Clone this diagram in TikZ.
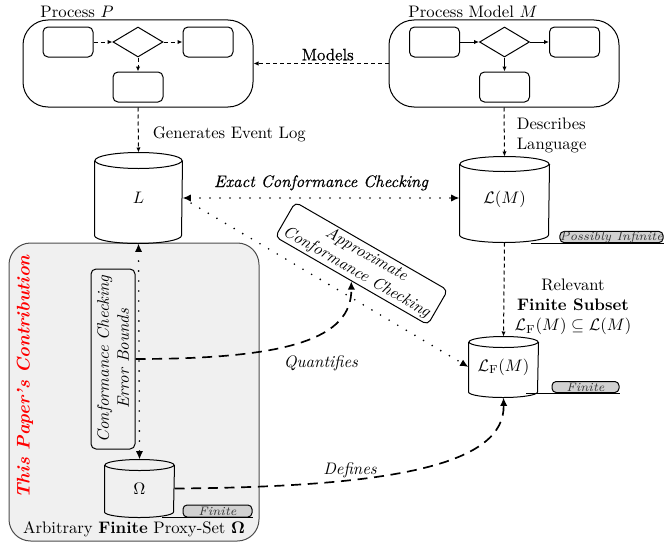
\documentclass[tikz,border=0pt]{standalone}
\usepackage[no-math]{fontspec}
\usetikzlibrary{shapes.geometric,arrows.meta,calc}
% slightly emboldened roman for edge captions
\newfontfamily\heavyrm{Latin Modern Roman}[FakeBold=0.5]
\newcommand\pxu{0.6pt}
% cylinder: name, x, y, width, height, ellipse radius, text
\newcommand\drum[7]{%
  \node[minimum width=#4*\pxu, minimum height=#5*\pxu, inner sep=0] (#1) at (#2,#3) {#7};
  \draw ($(#1.north west)+(0,-#6)$) -- ($(#1.south west)+(0,#6)$)
     arc[start angle=180, end angle=360, x radius=#4/2, y radius=#6]
     -- ($(#1.north east)+(0,-#6)$);
  \draw ($(#1.north)+(0,-#6)$) ellipse[x radius=#4/2, y radius=#6];
}
\begin{document}
\begin{tikzpicture}[x=0.6pt, y=0.6pt, line width=0.6pt,
  proc/.style={draw, rounded corners=15pt, minimum width=230*\pxu, minimum height=87*\pxu, inner sep=0},
  task/.style={draw, rounded corners=3pt, minimum width=50*\pxu, minimum height=30*\pxu, inner sep=0},
  gate/.style={draw, diamond, minimum width=50*\pxu, minimum height=30*\pxu, inner sep=0},
  smalltip/.style={-{Latex[length=3pt,width=2.6pt]}},
  fdash/.style={dash pattern=on 2.4pt off 1.8pt},
  dotline/.style={line width=1.1pt, line cap=round, dash pattern=on 0pt off 6pt},
  bigtip/.tip={Latex[length=5pt,width=4.4pt]},
  bigdash/.style={line width=1pt, dash pattern=on 6pt off 4pt},
  tagbox/.style={draw, fill=black!18, rounded corners=2.5pt, inner sep=0, font=\fontsize{7.4}{8}\selectfont\itshape, text=black!80},
  roundlabel/.style={draw, rounded corners=3pt, align=center, font=\itshape, inner sep=1pt}
]
\path[use as bounding box] (0,0) rectangle (665,543);

% ---- Process P ----
\node[proc] (P) at (138,479.5) {};
\node (Plab) at (77,531) {Process $P$};
\node[task] (p1) at (68,501) {};
\node[gate] (p2) at (138,501) {};
\node[task] (p3) at (208,501) {};
\node[task] (p4) at (138,456) {};
\draw[fdash, smalltip] (p1) -- (p2);
\draw[fdash, smalltip] (p2) -- (p3);
\draw[fdash, smalltip] (p2) -- (p4);

% ---- Process model M ----
\node[proc] (M) at (504,479.5) {};
\node (Mlab) at (473,531) {Process Model $M$};
\node[task] (m1) at (434.5,501) {};
\node[gate] (m2) at (504.5,501) {};
\node[task] (m3) at (574.5,501) {};
\node[task] (m4) at (504.5,456) {};
\draw[smalltip] (m1) -- (m2);
\draw[smalltip] (m2) -- (m3);
\draw[smalltip] (m2) -- (m4);

\draw[fdash, smalltip] (M.west) -- node[pos=0.45, above, inner sep=1.5pt, font=\heavyrm] {Models} (P.east);

% ---- contribution area ----
\node[draw=black!70, fill=black!6, rounded corners=13pt, minimum width=250*\pxu, minimum height=298*\pxu, inner sep=0] (C) at (134,151) {};
\node[rotate=90, text=red, font=\fontsize{11}{13}\selectfont\bfseries\itshape] (Ctitle) at (25,166) {This Paper's Contribution};
\node (Clab) at (134,14) {Arbitrary \textbf{Finite} Proxy-Set $\mathbf{\Omega}$};

% ---- data stores ----
\drum{L}{138.5}{345}{87}{90}{8}{$L$}
\drum{LM}{504.5}{343.5}{89}{85}{7.5}{$\mathcal{L}(M)$}
\drum{LF}{503.5}{176}{69}{60}{5.5}{$\mathcal{L}_{\mathrm{F}}(M)$}
\drum{Om}{139.5}{54.5}{69}{57}{5.5}{$\Omega$}

% ---- size tags ----
\node[tagbox, minimum width=103*\pxu, minimum height=11*\pxu] (tagLM) at (611.5,306) {Possibly Infinite};
\coordinate (lmb) at ($(LM.south)+(26,0)$);
\draw (tagLM.south east) -- (tagLM.south -| lmb);
\node[tagbox, minimum width=67*\pxu, minimum height=11*\pxu] (tagLF) at (585.5,156) {Finite};
\coordinate (lfb) at ($(LF.south)+(22,0)$);
\draw (tagLF.south east) -- (tagLF.south -| lfb);
\node[tagbox, minimum width=69*\pxu, minimum height=12*\pxu] (tagOm) at (217.5,32) {Finite};
\coordinate (omb) at ($(Om.south)+(22,0)$);
\draw (tagOm.south east) -- (tagOm.south -| omb);

% ---- vertical relations ----
\draw[fdash, smalltip] (P.south) -- node[pos=0.6, anchor=west, inner sep=0, xshift=8.4pt] {Generates Event Log} (L.north);
\draw[fdash, smalltip] (M.south) -- node[pos=0.56, anchor=west, inner sep=0, xshift=7.2pt, align=left] {Describes\\Language} (LM.north);
\draw[fdash, smalltip] (LM.south) -- (LF.north);
\node[align=center] (rel) at (573,236) {Relevant\\\textbf{Finite Subset}\\$\mathcal{L}_{\mathrm{F}}(M)\subseteq\mathcal{L}(M)$};

% ---- conformance checking ----
\draw[dotline, bigtip-bigtip] (L.east) -- node[above, inner sep=4pt, font=\heavyrm\itshape] {Exact Conformance Checking} (L.east -| LM.west);
\draw[dotline, -bigtip, shorten <=6pt] (L.east) -- (LF.west);
\node[roundlabel, rotate=-30, minimum width=176*\pxu, minimum height=40*\pxu] (ACC) at (361.5,279.5) {Approximate\\Conformance Checking};

% ---- error bounds ----
\node[roundlabel, rotate=90, minimum width=180*\pxu, minimum height=44*\pxu] (EB) at (113,184) {Conformance Checking\\Error Bounds};
\draw[dotline, bigtip-bigtip] (L.south) -- (Om.north);
\draw[bigdash, -bigtip] (EB.south) .. controls (290,184) and (352,205) .. (ACC.south);
\node[font=\itshape] (qlab) at (321,180) {Quantifies};
\draw[bigdash, -bigtip] (Om.east) .. controls (400,56) and (505,80) .. (LF.south);
\node[font=\itshape] (dlab) at (350,73) {Defines};
\end{tikzpicture}
\end{document}
